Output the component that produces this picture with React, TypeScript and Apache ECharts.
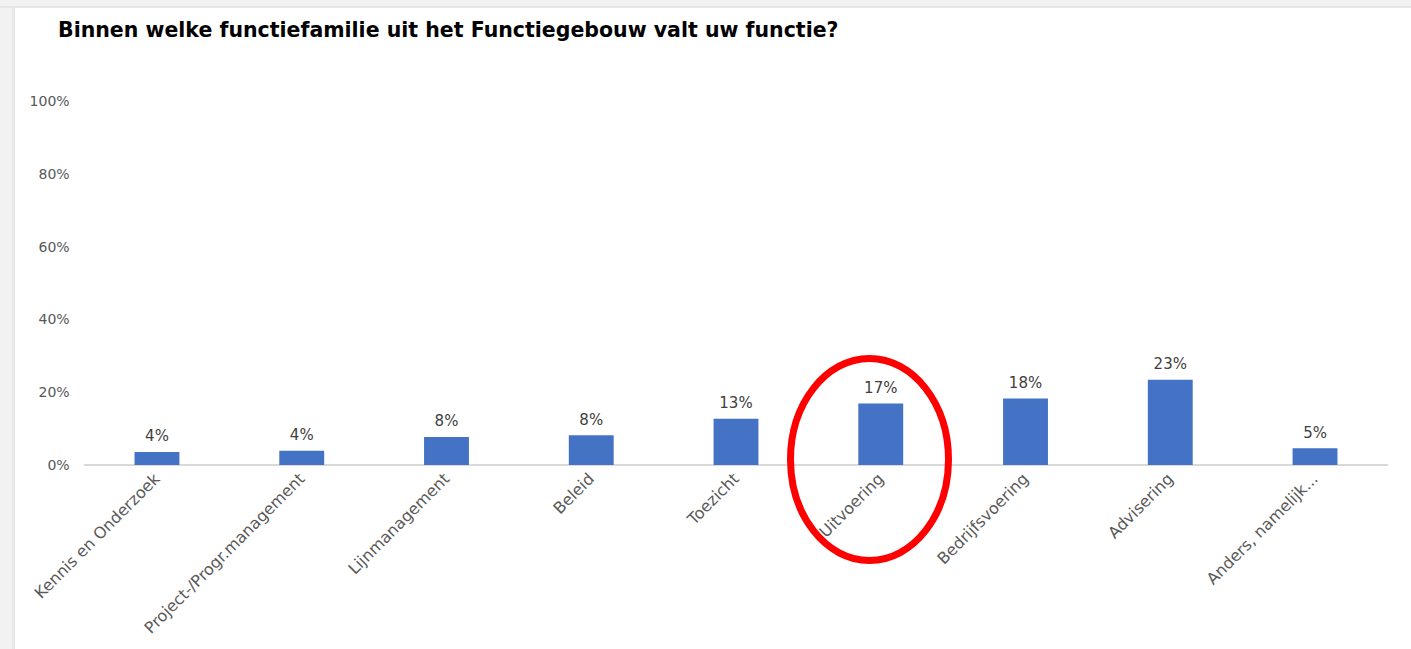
import React, { useEffect, useRef } from "react";
import * as echarts from "echarts";

const categories = [
  "Kennis en Onderzoek",
  "Project-/Progr.management",
  "Lijnmanagement",
  "Beleid",
  "Toezicht",
  "Uitvoering",
  "Bedrijfsvoering",
  "Advisering",
  "Anders, namelijk...",
];
const values = [3.6, 3.9, 7.7, 8.2, 12.7, 16.9, 18.3, 23.4, 4.6];
const valueLabels = ["4%", "4%", "8%", "8%", "13%", "17%", "18%", "23%", "5%"];
const yTicks = [0, 20, 40, 60, 80, 100];
const title = "Binnen welke functiefamilie uit het Functiegebouw valt uw functie?";

export default function App() {
  const ref = useRef<HTMLDivElement>(null);
  useEffect(() => {
    document.body.style.margin = "0";
    const chart = echarts.init(ref.current!, undefined, { renderer: "svg" });
    chart.setOption({
      animation: false,
      backgroundColor: "#ffffff",
      graphic: [
        { type: "rect", shape: { x: 0, y: 0, width: 1411, height: 7 }, style: { fill: "#f2f2f2" }, z: -10 },
        { type: "rect", shape: { x: 0, y: 6, width: 1411, height: 2 }, style: { fill: "#e6e6e6" }, z: -9 },
        { type: "rect", shape: { x: 0, y: 0, width: 13, height: 649 }, style: { fill: "#f2f2f2" }, z: -10 },
        { type: "rect", shape: { x: 12, y: 6, width: 3, height: 643 }, style: { fill: "#e8e8e8" }, z: -9 },
        {
          type: "text",
          left: 58,
          top: 19,
          style: {
            text: title,
            fontFamily: "DejaVu Sans",
            fontWeight: "bold",
            fontSize: 20.5,
            fill: "#000000",
          },
        },
        {
          type: "ellipse",
          shape: { cx: 869.5, cy: 459.5, rx: 79, ry: 101 },
          style: { fill: "none", stroke: "#ff0000", lineWidth: 7 },
          z: 100,
        },
      ],
      grid: { left: 84.6, right: 23.6, top: 101, bottom: 184 },
      xAxis: {
        type: "category",
        data: categories,
        axisLine: { lineStyle: { color: "#d9d9d9", width: 2 } },
        axisTick: { show: false },
        axisLabel: {
          rotate: 45,
          interval: 0,
          margin: 11,
          color: "#595959",
          fontSize: 16,
          fontFamily: "DejaVu Sans",
        },
      },
      yAxis: {
        type: "value",
        min: 0,
        max: 100,
        interval: 20,
        splitLine: { show: false },
        axisLine: { show: false },
        axisTick: { show: false },
        axisLabel: {
          margin: 15,
          color: "#595959",
          fontSize: 14,
          fontFamily: "DejaVu Sans",
          formatter: (v: number) => (yTicks.includes(v) ? v + "%" : ""),
        },
      },
      series: [
        {
          type: "bar",
          data: values,
          barWidth: "31%",
          itemStyle: { color: "#4472c4" },
          label: {
            show: true,
            position: "top",
            distance: 8,
            color: "#404040",
            fontSize: 15,
            fontFamily: "DejaVu Sans",
            formatter: (p: any) => valueLabels[p.dataIndex],
          },
        },
      ],
    });
    return () => chart.dispose();
  }, []);
  return (
    <div
      ref={ref}
      style={{ position: "fixed", left: 0, top: 0, width: 1411, height: 649 }}
    />
  );
}
